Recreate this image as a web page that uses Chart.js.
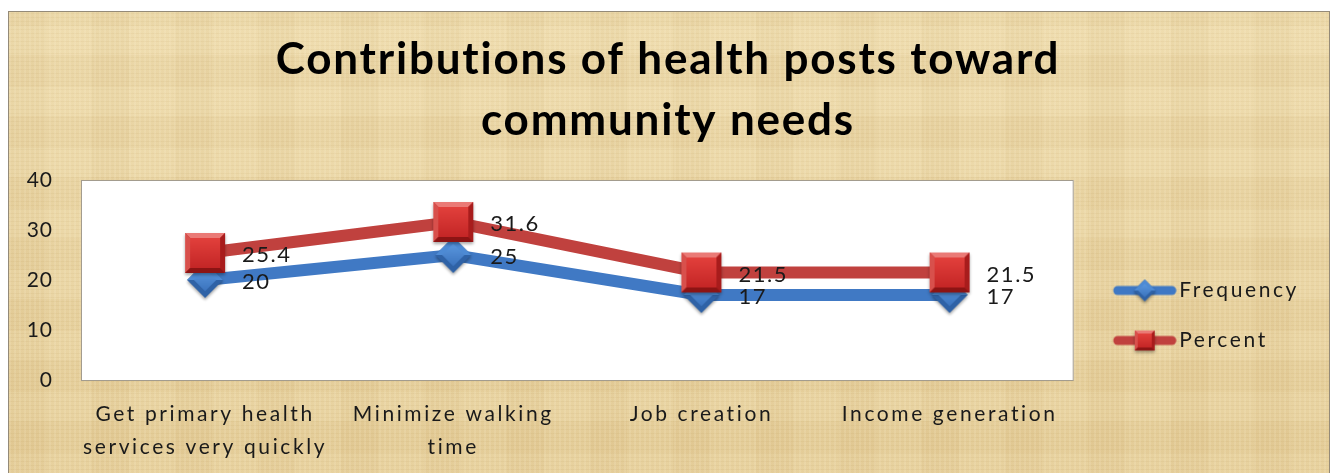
<!DOCTYPE html>
<html>
<head>
<meta charset="utf-8">
<script src="https://cdn.jsdelivr.net/npm/chart.js@4.4.1/dist/chart.umd.min.js"></script>
<style>
  html, body { margin: 0; padding: 0; background: #ffffff; }
  .wrap { position: relative; width: 1336px; height: 473px; overflow: hidden; }
  /* parchment look of the chart box */
  .frame {
    position: absolute; left: 8px; top: 11px; width: 1320px; height: 470px;
    border: 1px solid #948a78;
    background-color: #e9d5a3;
    background-image:
      repeating-linear-gradient(90deg, rgba(255,248,225,0.12) 0px, rgba(255,248,225,0.12) 2px, rgba(0,0,0,0) 2px, rgba(0,0,0,0) 5px),
      repeating-linear-gradient(0deg, rgba(150,110,40,0.06) 0px, rgba(150,110,40,0.06) 1px, rgba(0,0,0,0) 1px, rgba(0,0,0,0) 4px),
      repeating-linear-gradient(90deg, rgba(170,130,60,0.035) 0px, rgba(170,130,60,0.035) 37px, rgba(255,240,200,0.05) 37px, rgba(255,240,200,0.05) 83px),
      repeating-linear-gradient(0deg, rgba(255,245,215,0.06) 0px, rgba(255,245,215,0.06) 29px, rgba(160,120,50,0.035) 29px, rgba(160,120,50,0.035) 61px),
      linear-gradient(180deg, #eddaab, #e5cd98);
  }
  #myChart { position: absolute; left: 0; top: 0; }
</style>
</head>
<body>
<div class="wrap">
  <div class="frame"></div>
  <canvas id="myChart" width="1336" height="473"></canvas>
</div>
<script>
// data
const categories = [
  ['Get primary health', 'services very quickly'],
  ['Minimize walking', 'time'],
  'Job creation',
  'Income generation'
];
const frequency = [20, 25, 17, 17];
const percent = [25.4, 31.6, 21.5, 21.5];
const yTicks = [0, 10, 20, 30, 40];

const FONT = 'Lato, "Open Sans", sans-serif';

// bevelled red square marker
function squareMarker(s) {
  const m = 5;
  const c = document.createElement('canvas');
  c.width = c.height = s + 2 * m;
  const g = c.getContext('2d');
  const x0 = m, y0 = m, x1 = m + s, y1 = m + s, b = Math.round(s * 0.13);
  g.shadowColor = 'rgba(0,0,0,0.35)';
  g.shadowBlur = 3;
  g.shadowOffsetY = 2;
  g.fillStyle = '#b82222';
  g.fillRect(x0, y0, s, s);
  g.shadowColor = 'transparent';
  const poly = (pts, col) => {
    g.beginPath();
    g.moveTo(pts[0][0], pts[0][1]);
    for (let i = 1; i < pts.length; i++) g.lineTo(pts[i][0], pts[i][1]);
    g.closePath();
    g.fillStyle = col;
    g.fill();
  };
  poly([[x0, y0], [x1, y0], [x1 - b, y0 + b], [x0 + b, y0 + b]], '#ea7a76');
  poly([[x0, y0], [x0 + b, y0 + b], [x0 + b, y1 - b], [x0, y1]], '#d8504c');
  poly([[x1, y0], [x1, y1], [x1 - b, y1 - b], [x1 - b, y0 + b]], '#a81c1c');
  poly([[x0, y1], [x0 + b, y1 - b], [x1 - b, y1 - b], [x1, y1]], '#8c1414');
  const gr = g.createLinearGradient(0, y0 + b, 0, y1 - b);
  gr.addColorStop(0, '#e2403c');
  gr.addColorStop(1, '#c42626');
  g.fillStyle = gr;
  g.fillRect(x0 + b, y0 + b, s - 2 * b, s - 2 * b);
  return c;
}

// bevelled blue diamond marker
function diamondMarker(s) {
  const m = 5;
  const c = document.createElement('canvas');
  c.width = c.height = s + 2 * m;
  const g = c.getContext('2d');
  const cx = c.width / 2, cy = c.height / 2, r = s / 2;
  g.shadowColor = 'rgba(0,0,0,0.35)';
  g.shadowBlur = 3;
  g.shadowOffsetY = 2;
  g.beginPath();
  g.moveTo(cx, cy - r); g.lineTo(cx + r, cy); g.lineTo(cx, cy + r); g.lineTo(cx - r, cy); g.closePath();
  g.fillStyle = '#2f62a6';
  g.fill();
  g.shadowColor = 'transparent';
  // upper facets lighter
  g.beginPath();
  g.moveTo(cx, cy - r); g.lineTo(cx + r, cy); g.lineTo(cx - r, cy); g.closePath();
  g.fillStyle = '#4d8ad4';
  g.fill();
  const ir = r * 0.62;
  g.beginPath();
  g.moveTo(cx, cy - ir); g.lineTo(cx + ir, cy); g.lineTo(cx, cy + ir); g.lineTo(cx - ir, cy); g.closePath();
  const gr = g.createLinearGradient(0, cy - ir, 0, cy + ir);
  gr.addColorStop(0, '#5a97de');
  gr.addColorStop(1, '#3b73bd');
  g.fillStyle = gr;
  g.fill();
  return c;
}

// legend symbol: thick line with a small marker in the middle
function legendSymbol(color, marker) {
  const c = document.createElement('canvas');
  c.width = 82; c.height = 30;
  const g = c.getContext('2d');
  g.lineCap = 'round';
  g.lineWidth = 9;
  g.strokeStyle = color;
  g.beginPath();
  g.moveTo(18 + 5, 15); g.lineTo(82 - 5, 15);
  g.stroke();
  g.drawImage(marker, 50 - marker.width / 2, 15 - marker.height / 2);
  return c;
}

const redSquare = squareMarker(40);
const blueDiamond = diamondMarker(36);
const legendImgs = [
  legendSymbol('#3f78c4', diamondMarker(22)),
  legendSymbol('#c0413e', squareMarker(20))
];

// the reference text is rendered with loose letter spacing
function withSpacing(obj, fn, sp) {
  if (!obj || obj['_sp_' + fn]) return;
  const orig = obj[fn];
  obj[fn] = function (...args) {
    const c = this.ctx;
    const prev = c.letterSpacing;
    c.letterSpacing = sp;
    try { return orig.apply(this, args); } finally { c.letterSpacing = prev; }
  };
  obj['_sp_' + fn] = true;
}

const spacing = {
  id: 'spacing',
  afterInit(chart) { chart.ctx.letterSpacing = '2.6px'; },
  afterLayout(chart) {
    withSpacing(chart.titleBlock, 'draw', '1.8px');
    withSpacing(chart.scales.y, 'drawLabels', '1px');
  }
};

const plotBackground = {
  id: 'plotBackground',
  beforeDatasetsDraw(chart) {
    const {ctx, chartArea: a} = chart;
    ctx.save();
    ctx.fillStyle = '#ffffff';
    ctx.fillRect(a.left, a.top, a.width, a.height);
    ctx.strokeStyle = '#a39c8e';
    ctx.lineWidth = 1;
    ctx.strokeRect(a.left + 0.5, a.top + 0.5, a.width - 1, a.height);
    ctx.restore();
  }
};

const valueLabels = {
  id: 'valueLabels',
  afterDatasetsDraw(chart) {
    const ctx = chart.ctx;
    ctx.save();
    ctx.letterSpacing = '1.5px';
    ctx.font = '22px ' + FONT;
    ctx.fillStyle = '#1a1a1a';
    ctx.textAlign = 'left';
    ctx.textBaseline = 'middle';
    chart.data.datasets.forEach((ds, i) => {
      chart.getDatasetMeta(i).data.forEach((pt, j) => {
        ctx.fillText(String(ds.data[j]), pt.x + 37, pt.y + 2);
      });
    });
    ctx.restore();
  }
};

const ctx = document.getElementById('myChart').getContext('2d');
const myChart = new Chart(ctx, {
  type: 'line',
  data: {
    labels: categories,
    datasets: [{
      label: 'Frequency',
      data: frequency,
      borderColor: '#4079c4',
      backgroundColor: '#4079c4',
      borderWidth: 12,
      pointStyle: blueDiamond,
      pointRadius: 18,
      tension: 0,
      order: 1
    }, {
      label: 'Percent',
      data: percent,
      borderColor: '#c0413e',
      backgroundColor: '#c0413e',
      borderWidth: 12,
      pointStyle: redSquare,
      pointRadius: 20,
      tension: 0,
      order: 0
    }]
  },
  options: {
    responsive: false,
    animation: false,
    layout: { padding: { left: 27, right: 27, top: 0, bottom: 0 } },
    plugins: {
      tooltip: { enabled: false },
      title: {
        display: true,
        text: ['Contributions of health posts toward', 'community needs'],
        color: '#000000',
        font: { family: FONT, size: 44, weight: 'bold', lineHeight: '61px' },
        padding: { top: 29, bottom: 29 }
      },
      legend: {
        position: 'right',
        align: 'end',
        fullSize: false,
        labels: {
          usePointStyle: true,
          pointStyleWidth: 66,
          padding: 29,
          color: '#1a1a1a',
          font: { family: FONT, size: 21 },
          sort: (a, b) => a.datasetIndex - b.datasetIndex,
          generateLabels(chart) {
            const items = Chart.defaults.plugins.legend.labels.generateLabels(chart);
            items.forEach(it => { it.pointStyle = legendImgs[it.datasetIndex]; });
            return items;
          }
        }
      }
    },
    scales: {
      x: {
        offset: true,
        grid: { display: false, drawTicks: false },
        border: { display: false },
        ticks: {
          color: '#1a1a1a',
          padding: 18,
          maxRotation: 0,
          autoSkip: false,
          font: { family: FONT, size: 21, lineHeight: '33px' }
        },
        afterFit(s) { s.height = 473 - 380; }
      },
      y: {
        min: 0,
        max: 40,
        grid: { display: false, drawTicks: false },
        border: { display: false },
        afterBuildTicks(s) { s.ticks = yTicks.map(v => ({ value: v })); },
        ticks: {
          color: '#1a1a1a',
          padding: 28,
          font: { family: FONT, size: 21 }
        },
        afterFit(s) { s.width = 81 - 27; }
      }
    }
  },
  plugins: [spacing, plotBackground, valueLabels]
});
</script>
</body>
</html>
